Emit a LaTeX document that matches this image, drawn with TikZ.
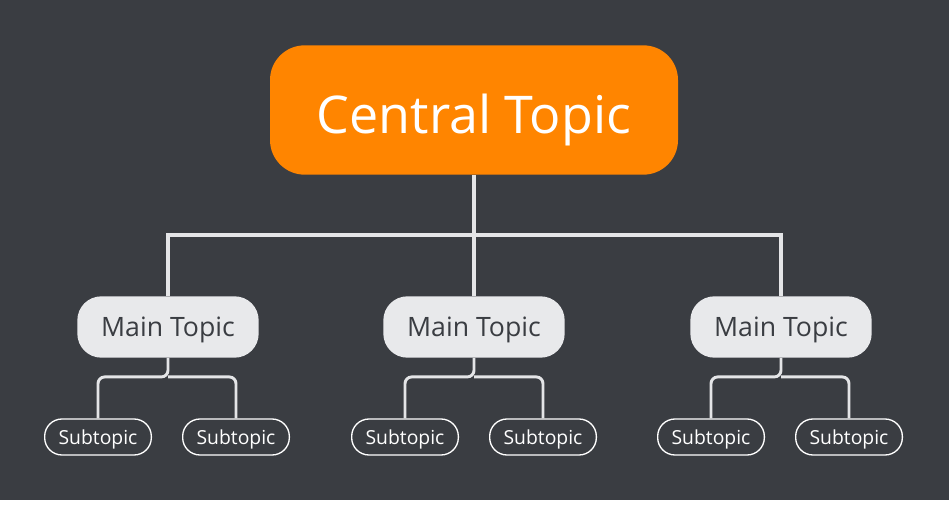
\documentclass[tikz,border=0pt]{standalone}
\usepackage{fontspec}
\setmainfont{Open Sans}
\usetikzlibrary{positioning,calc}
\definecolor{bg}{HTML}{3A3D42}
\definecolor{orangeTopic}{HTML}{FF8500}
\definecolor{mainFill}{HTML}{E8E9EB}
\definecolor{lineCol}{HTML}{E4E5E7}
\newcommand{\dn}[2]{\raisebox{-#1}{#2}}

\begin{document}
\begin{tikzpicture}[
    x=0.75pt, y=-0.75pt,
    central/.style={rectangle, rounded corners=26pt, fill=orangeTopic, text=white,
        minimum width=306pt, minimum height=97pt, text height=0.72em, text depth=0pt,
        font=\fontsize{39}{42}\selectfont}, % Центральная тема
    main/.style={rectangle, rounded corners=18pt, fill=mainFill, text=bg,
        minimum width=136pt, minimum height=46pt, text height=0.72em, text depth=0pt,
        font=\fontsize{20}{23}\selectfont}, % Основные темы
    sub/.style={rectangle, rounded corners=13pt, draw=white, line width=1pt, text=white,
        minimum width=80pt, minimum height=27pt, text height=0.72em, text depth=0pt,
        font=\fontsize{14.5}{16}\selectfont}, % Подтемы
    link/.style={draw=lineCol, line width=3pt}, % Связи
    sublink/.style={draw=lineCol, line width=2.2pt, rounded corners=5pt}
    ]

    % Фон
    \fill[white] (0,0) rectangle (949,516);
    \fill[bg] (0,0) rectangle (949,500);
    \useasboundingbox (0,0) rectangle (949,516);

    % Центральная тема
    \node[central] (C) at (474,110) {\dn{0.36em}{Central Topic}};

    % Основные темы
    \node[main] (M1) at (168,327) {\dn{0.19em}{Main Topic}};
    \node[main] (M2) at (474,327) {\dn{0.19em}{Main Topic}};
    \node[main] (M3) at (781,327) {\dn{0.19em}{Main Topic}};

    % Подтемы
    \node[sub] (S1a) at (98,437) {\dn{0.15em}{Subtopic}};
    \node[sub] (S1b) at (236,437) {\dn{0.15em}{Subtopic}};
    \node[sub] (S2a) at (405,437) {\dn{0.15em}{Subtopic}};
    \node[sub] (S2b) at (543,437) {\dn{0.15em}{Subtopic}};
    \node[sub] (S3a) at (711,437) {\dn{0.15em}{Subtopic}};
    \node[sub] (S3b) at (849,437) {\dn{0.15em}{Subtopic}};

    % Связи центральной темы
    \coordinate (J) at (474,235);
    \draw[link] (C.south) -- (J);
    \foreach \m in {1,2,3}
        \draw[link] (J) -| (M\m.north);

    % Связи основных тем с подтемами
    \foreach \m in {1,2,3} {
        \coordinate (K\m) at ($(M\m.south)+(0,19)$);
        \draw[sublink] (M\m.south) -- (K\m) -| (S\m a.north);
        \draw[sublink] (K\m) -| (S\m b.north);
    }

\end{tikzpicture}
\end{document}
